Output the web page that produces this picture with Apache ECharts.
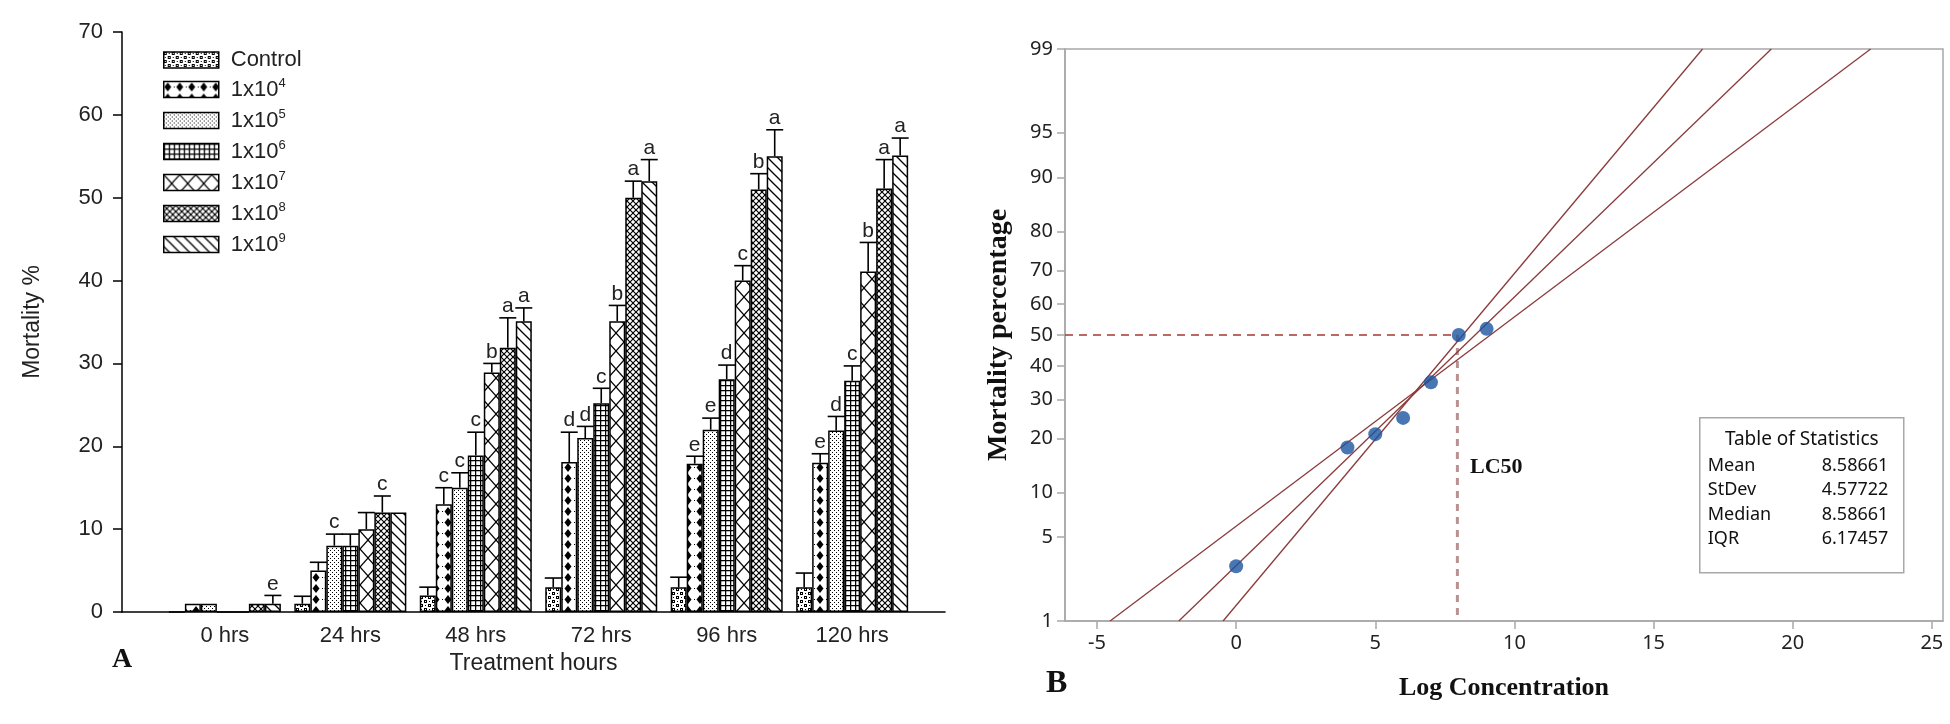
<!DOCTYPE html>
<html>
<head>
<meta charset="utf-8">
<script src="https://cdn.jsdelivr.net/npm/echarts@6/dist/echarts.min.js"></script>
<style>
html, body { margin: 0; background: #fff; }
#chart { width: 1950px; height: 724px; }
</style>
</head>
<body>
<div id="chart"></div>
<script>
// ---- panel A data: mortality % per treatment group and hour ----
var hours = ['0 hrs', '24 hrs', '48 hrs', '72 hrs', '96 hrs', '120 hrs'];
var seriesNames = ['Control', '1x10^4', '1x10^5', '1x10^6', '1x10^7', '1x10^8', '1x10^9'];

var meanControl = [0, 1, 2, 3, 3, 3];
var mean1e4 = [1, 5, 13, 18.1, 17.9, 18];
var mean1e5 = [1, 8, 15, 21, 22, 21.9];
var mean1e6 = [0, 8, 18.9, 25.2, 28.1, 27.9];
var mean1e7 = [0, 10, 28.9, 35.1, 40, 41.1];
var mean1e8 = [1, 12, 31.9, 50, 51, 51.1];
var mean1e9 = [1, 12, 35.1, 52, 55, 55.1];

// top of the error bar (mean + error)
var capControl = [null, 1.9, 3, 4.1, 4.2, 4.7];
var cap1e4 = [null, 6, 15, 21.7, 18.8, 19.1];
var cap1e5 = [null, 9.4, 16.8, 22.4, 23.4, 23.6];
var cap1e6 = [null, 9.4, 21.7, 27, 29.8, 29.7];
var cap1e7 = [null, 12, 30, 37, 41.8, 44.6];
var cap1e8 = [null, 14, 35.5, 52, 52.9, 54.6];
var cap1e9 = [2, null, 36.7, 54.6, 58.2, 57.2];

var letControl = ['', '', '', '', '', ''];
var let1e4 = ['', '', 'c', 'd', 'e', 'e'];
var let1e5 = ['', 'c', 'c', 'd', 'e', 'd'];
var let1e6 = ['', '', 'c', 'c', 'd', 'c'];
var let1e7 = ['', '', 'b', 'b', 'c', 'b'];
var let1e8 = ['', 'c', 'a', 'a', 'b', 'a'];
var let1e9 = ['e', '', 'a', 'a', 'a', 'a'];

var yTicksA = [0, 10, 20, 30, 40, 50, 60, 70];

// ---- panel B data: probit plot ----
var logConc = [0, 4, 5, 6, 7, 8, 9];
var mortPct = [3, 18, 21, 25, 35, 50, 52];
var fitLine = [[-2.06, 1], [19.23, 99]];
var ciSteep = [[-0.47, 1], [16.76, 99]];
var ciShallow = [[-4.53, 1], [22.8, 99]];
var lc50 = [7.95, 50];
var xTicksB = [-5, 0, 5, 10, 15, 20, 25];
var yTicksB = [1, 5, 10, 20, 30, 40, 50, 60, 70, 80, 90, 95, 99];
var statNames = ['Mean', 'StDev', 'Median', 'IQR'];
var statValues = ['8.58661', '4.57722', '8.58661', '6.17457'];

var means = [meanControl, mean1e4, mean1e5, mean1e6, mean1e7, mean1e8, mean1e9];
var caps = [capControl, cap1e4, cap1e5, cap1e6, cap1e7, cap1e8, cap1e9];
var letters = [letControl, let1e4, let1e5, let1e6, let1e7, let1e8, let1e9];

var BAR_W = 16;
var sans = '"Liberation Sans", Arial, sans-serif';
var serif = '"Liberation Serif", "Times New Roman", serif';
var minitab = '"Noto Sans", "Open Sans", sans-serif';

// inverse normal cdf (Acklam), used as the probability-axis scale
function probit(p) {
    var a = [-3.969683028665376e+01, 2.209460984245205e+02, -2.759285104469687e+02, 1.383577518672690e+02, -3.066479806614716e+01, 2.506628277459239e+00];
    var b = [-5.447609879822406e+01, 1.615858368580409e+02, -1.556989798598866e+02, 6.680131188771972e+01, -1.328068155288572e+01];
    var c = [-7.784894002430293e-03, -3.223964580411365e-01, -2.400758277161838e+00, -2.549732539343734e+00, 4.374664141464968e+00, 2.938163982698783e+00];
    var d = [7.784695709041462e-03, 3.224671290700398e-01, 2.445134137142996e+00, 3.754408661907416e+00];
    var pl = 0.02425, q, r;
    if (p < pl) {
        q = Math.sqrt(-2 * Math.log(p));
        return (((((c[0] * q + c[1]) * q + c[2]) * q + c[3]) * q + c[4]) * q + c[5]) / ((((d[0] * q + d[1]) * q + d[2]) * q + d[3]) * q + 1);
    }
    if (p <= 1 - pl) {
        q = p - 0.5; r = q * q;
        return (((((a[0] * r + a[1]) * r + a[2]) * r + a[3]) * r + a[4]) * r + a[5]) * q / (((((b[0] * r + b[1]) * r + b[2]) * r + b[3]) * r + b[4]) * r + 1);
    }
    q = Math.sqrt(-2 * Math.log(1 - p));
    return -(((((c[0] * q + c[1]) * q + c[2]) * q + c[3]) * q + c[4]) * q + c[5]) / ((((d[0] * q + d[1]) * q + d[2]) * q + d[3]) * q + 1);
}
function pz(pct) { return probit(pct / 100); }
var yTickZ = yTicksB.map(pz);

// fill patterns for the bars
function makePattern(w, h, draw) {
    var cv = document.createElement('canvas');
    cv.width = w; cv.height = h;
    var ctx = cv.getContext('2d');
    ctx.fillStyle = '#fff';
    ctx.fillRect(0, 0, w, h);
    ctx.fillStyle = '#000';
    ctx.strokeStyle = '#000';
    draw(ctx, w, h);
    return { image: cv, repeat: 'repeat' };
}
function seg(ctx, x1, y1, x2, y2) { ctx.beginPath(); ctx.moveTo(x1, y1); ctx.lineTo(x2, y2); ctx.stroke(); }

var patterns = [
    makePattern(8, 8, function (ctx) {
        ctx.fillRect(0, 0, 3, 3); ctx.fillRect(4, 4, 3, 3);
        ctx.fillRect(5, 1, 1, 1); ctx.fillRect(1, 5, 1, 1);
        ctx.fillStyle = '#fff';
        ctx.fillRect(1, 1, 1, 1); ctx.fillRect(5, 5, 1, 1);
    }),
    makePattern(12, 11, function (ctx) {
        ctx.beginPath();
        ctx.moveTo(4, 1); ctx.lineTo(7.5, 5.5); ctx.lineTo(4, 10); ctx.lineTo(0.5, 5.5);
        ctx.closePath(); ctx.fill();
        ctx.fillRect(10, 5, 1, 1);
    }),
    makePattern(4, 4, function (ctx) {
        ctx.fillRect(0, 0, 1, 1); ctx.fillRect(2, 2, 1, 1);
    }),
    makePattern(5, 5, function (ctx) {
        ctx.lineWidth = 1.3;
        seg(ctx, 0.6, 0, 0.6, 5); seg(ctx, 0, 0.6, 5, 0.6);
    }),
    makePattern(16, 18, function (ctx) {
        ctx.lineWidth = 1.2;
        seg(ctx, 0, 0, 16, 18); seg(ctx, 16, 0, 0, 18);
    }),
    makePattern(6, 6, function (ctx) {
        ctx.lineWidth = 1.15;
        seg(ctx, -1, -1, 7, 7); seg(ctx, 7, -1, -1, 7);
    }),
    makePattern(10, 10, function (ctx) {
        ctx.lineWidth = 1.3;
        seg(ctx, -1, -1, 11, 11); seg(ctx, -6, 4, 6, 16); seg(ctx, 4, -6, 16, 6);
    })
];

var barSeries = seriesNames.map(function (name, s) {
    return {
        name: name,
        type: 'bar',
        xAxisIndex: 0,
        yAxisIndex: 0,
        barWidth: BAR_W,
        barGap: '0%',
        itemStyle: { color: patterns[s], borderColor: '#000', borderWidth: 1.5 },
        data: means[s].map(function (v, h) { return [h, v]; })
    };
});

var errItems = [];
means.forEach(function (arr, s) {
    arr.forEach(function (v, h) {
        if (caps[s][h] != null) {
            errItems.push({ x: h, s: s, mean: v, cap: caps[s][h], letter: letters[s][h] });
        }
    });
});

function renderErr(params, api) {
    var it = errItems[params.dataIndex];
    var capPt = api.coord([it.x, it.cap]);
    var topPt = api.coord([it.x, it.mean]);
    var cx = capPt[0] + (it.s - 3) * BAR_W;
    var ls = { stroke: '#000', lineWidth: 1.6 };
    var kids = [
        { type: 'line', shape: { x1: cx, y1: topPt[1], x2: cx, y2: capPt[1] }, style: ls },
        { type: 'line', shape: { x1: cx - 8.5, y1: capPt[1], x2: cx + 8.5, y2: capPt[1] }, style: ls }
    ];
    if (it.letter) {
        kids.push({
            type: 'text',
            style: { text: it.letter, x: cx, y: capPt[1] - 1, align: 'center', verticalAlign: 'bottom', font: '21px ' + sans, fill: '#222' }
        });
    }
    return { type: 'group', children: kids };
}

var chart = echarts.init(document.getElementById('chart'));

var option = {
    animation: false,
    backgroundColor: '#fff',
    legend: {
        data: seriesNames,
        orient: 'vertical',
        left: 163,
        top: 49,
        padding: 0,
        itemWidth: 55,
        itemHeight: 16,
        itemGap: 6,
        icon: 'rect',
        selectedMode: false,
        itemStyle: { borderColor: '#000', borderWidth: 1.5 },
        formatter: function (name) {
            return name.replace(/\^(\d+)/, '{sup|$1}');
        },
        textStyle: {
            fontFamily: sans, fontSize: 22, color: '#222', lineHeight: 22, padding: [0, 0, 0, 7],
            rich: { sup: { fontFamily: sans, fontSize: 13, color: '#222', lineHeight: 10, padding: [0, 0, 12, 0] } }
        }
    },
    grid: [
        { left: 122, top: 32, width: 823, height: 580 },
        { left: 1065, top: 49, width: 878, height: 572, show: true, borderColor: '#a8a8a8', borderWidth: 1.5 }
    ],
    xAxis: [
        {
            type: 'value', gridIndex: 0, min: -0.82, max: 5.74,
            name: 'Treatment hours', nameLocation: 'middle', nameGap: 40,
            nameTextStyle: { fontFamily: sans, fontSize: 23, color: '#222' },
            axisLine: { onZero: false, lineStyle: { color: '#000', width: 1.5 } },
            axisTick: { show: false },
            splitLine: { show: false },
            axisLabel: {
                customValues: [0, 1, 2, 3, 4, 5], margin: 13,
                fontFamily: sans, fontSize: 22, color: '#222',
                formatter: function (v) { return hours[Math.round(v)]; }
            }
        },
        {
            type: 'value', gridIndex: 1, min: -6.15, max: 25.4,
            name: 'Log Concentration', nameLocation: 'middle', nameGap: 54,
            nameTextStyle: { fontFamily: serif, fontSize: 26, fontWeight: 'bold', color: '#111' },
            axisLine: { onZero: false, lineStyle: { color: '#a8a8a8', width: 1.5 } },
            axisTick: { customValues: xTicksB, length: 8, lineStyle: { color: '#a8a8a8', width: 1.5 } },
            splitLine: { show: false },
            axisLabel: { customValues: xTicksB, margin: 12, fontFamily: minitab, fontSize: 20, color: '#222' }
        }
    ],
    yAxis: [
        {
            type: 'value', gridIndex: 0, min: 0, max: 70, interval: 10,
            name: 'Mortality %', nameLocation: 'middle', nameGap: 78, nameRotate: 90,
            nameTextStyle: { fontFamily: sans, fontSize: 23, color: '#222' },
            axisLine: { show: true, onZero: false, lineStyle: { color: '#000', width: 1.5 } },
            axisTick: { show: true, length: 9, lineStyle: { color: '#000', width: 1.5 } },
            splitLine: { show: false },
            axisLabel: {
                customValues: yTicksA, margin: 19, fontFamily: sans, fontSize: 22, color: '#222'
            }
        },
        {
            type: 'value', gridIndex: 1, min: pz(1), max: pz(99),
            name: 'Mortality percentage', nameLocation: 'middle', nameGap: 52, nameRotate: 90,
            nameTextStyle: { fontFamily: serif, fontSize: 28, fontWeight: 'bold', color: '#111' },
            axisLine: { onZero: false, lineStyle: { color: '#a8a8a8', width: 1.5 } },
            axisTick: { customValues: yTickZ, length: 8, lineStyle: { color: '#a8a8a8', width: 1.5 } },
            splitLine: { show: false },
            axisLabel: {
                customValues: yTickZ, margin: 12, fontFamily: minitab, fontSize: 20, color: '#222',
                formatter: function (v) {
                    for (var i = 0; i < yTickZ.length; i++) {
                        if (Math.abs(yTickZ[i] - v) < 1e-6) return String(yTicksB[i]);
                    }
                    return '';
                }
            }
        }
    ],
    series: barSeries.concat([
        {
            type: 'custom',
            xAxisIndex: 0,
            yAxisIndex: 0,
            renderItem: renderErr,
            z: 5,
            data: errItems.map(function (it) { return [it.x, it.cap]; })
        },
        {
            type: 'line', xAxisIndex: 1, yAxisIndex: 1, symbol: 'none', z: 2,
            lineStyle: { color: '#a13a30', width: 1.6, type: [8, 6] },
            data: [[-6.15, pz(lc50[1])], [lc50[0], pz(lc50[1])]]
        },
        {
            type: 'line', xAxisIndex: 1, yAxisIndex: 1, symbol: 'none', z: 2,
            lineStyle: { color: '#b89292', width: 3, type: [7, 6] },
            data: [[lc50[0], pz(lc50[1])], [lc50[0], pz(1)]]
        },
        {
            type: 'line', xAxisIndex: 1, yAxisIndex: 1, symbol: 'none', z: 3,
            lineStyle: { color: '#8b3a3a', width: 1.3 },
            data: fitLine.map(function (p) { return [p[0], pz(p[1])]; })
        },
        {
            type: 'line', xAxisIndex: 1, yAxisIndex: 1, symbol: 'none', z: 3,
            lineStyle: { color: '#8b3a3a', width: 1.3 },
            data: ciSteep.map(function (p) { return [p[0], pz(p[1])]; })
        },
        {
            type: 'line', xAxisIndex: 1, yAxisIndex: 1, symbol: 'none', z: 3,
            lineStyle: { color: '#8b3a3a', width: 1.3 },
            data: ciShallow.map(function (p) { return [p[0], pz(p[1])]; })
        },
        {
            type: 'scatter', xAxisIndex: 1, yAxisIndex: 1, symbol: 'circle', symbolSize: 14, z: 4,
            itemStyle: { color: '#1a55a0' },
            data: logConc.map(function (x, i) { return [x, pz(mortPct[i])]; })
        }
    ]),
    graphic: [
        { type: 'text', left: 112, top: 646, style: { text: 'A', font: 'bold 28px ' + serif, fill: '#111' } },
        { type: 'text', left: 1046, top: 668, style: { text: 'B', font: 'bold 32px ' + serif, fill: '#111' } },
        { type: 'text', left: 1470, top: 456, style: { text: 'LC50', font: 'bold 22px ' + serif, fill: '#111' } },
        {
            type: 'group', left: 1699, top: 417,
            children: [
                { type: 'rect', shape: { x: 0, y: 0, width: 204, height: 155 }, style: { fill: '#fff', stroke: '#a8a8a8', lineWidth: 1.5 } },
                { type: 'text', x: 102, y: 22, style: { text: 'Table of Statistics', align: 'center', verticalAlign: 'middle', font: '19px ' + minitab, fill: '#111' } }
            ].concat(statNames.map(function (n, i) {
                return { type: 'text', x: 8, y: 48 + i * 24.5, style: { text: n, verticalAlign: 'middle', font: '18px ' + minitab, fill: '#111' } };
            })).concat(statValues.map(function (v, i) {
                return { type: 'text', x: 122, y: 48 + i * 24.5, style: { text: v, verticalAlign: 'middle', font: '18px ' + minitab, fill: '#111' } };
            }))
        }
    ]
};

chart.setOption(option);
</script>
</body>
</html>
